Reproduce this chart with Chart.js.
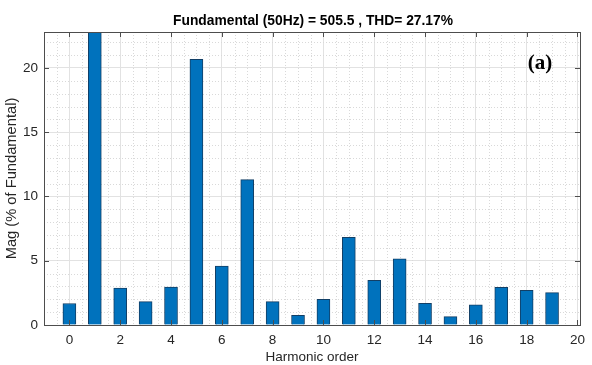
<!DOCTYPE html>
<html>
<head>
<meta charset="utf-8">
<script src="https://cdn.jsdelivr.net/npm/chart.js@4/dist/chart.umd.min.js"></script>
<style>
  html, body { margin: 0; padding: 0; background: #ffffff; }
  #wrap { width: 592px; height: 365px; position: relative; }
</style>
</head>
<body>
<div id="wrap"><canvas id="chartArmonicos"></canvas></div>
<script>
// Datos del espectro armónico
const ordenArmonico = [0, 1, 2, 3, 4, 5, 6, 7, 8, 9, 10, 11, 12, 13, 14, 15, 16, 17, 18, 19];
const magnitudPct = [1.67, 100, 2.88, 1.82, 2.96, 20.68, 4.59, 11.31, 1.82, 0.75,
                     2.0, 6.82, 3.48, 5.14, 1.69, 0.65, 1.56, 2.93, 2.70, 2.52];
const ticksX = [0, 2, 4, 6, 8, 10, 12, 14, 16, 18, 20];
const ticksY = [0, 5, 10, 15, 20];
const tituloGrafica = 'Fundamental (50Hz) = 505.5 , THD= 27.17%';
const etiquetaPanel = '(a)';

const colorTexto = '#262626';
const colorMarco = '#4d4d4d';

// Plugin: rejilla menor, marco, marcas interiores, título y etiqueta (a)
const estiloMatlab = {
    id: 'estiloMatlab',
    beforeDatasetsDraw(chart) {
        const { ctx, chartArea: a, scales: { x, y } } = chart;
        ctx.save();
        ctx.strokeStyle = '#d9d9d9';
        ctx.lineWidth = 1;
        ctx.setLineDash([1, 2]);
        for (let v = -0.5; v <= 20.1; v += 0.5) {
            if (ticksX.includes(v)) continue;
            const px = Math.round(x.getPixelForValue(v)) + 0.5;
            if (px <= a.left || px >= a.right) continue;
            ctx.beginPath(); ctx.moveTo(px, a.top); ctx.lineTo(px, a.bottom); ctx.stroke();
        }
        for (let v = 1; v <= 22; v += 1) {
            if (ticksY.includes(v)) continue;
            const py = Math.round(y.getPixelForValue(v)) + 0.5;
            ctx.beginPath(); ctx.moveTo(a.left, py); ctx.lineTo(a.right, py); ctx.stroke();
        }
        ctx.restore();
    },
    afterDraw(chart) {
        const { ctx, chartArea: a, scales: { x, y } } = chart;
        ctx.save();
        ctx.strokeStyle = colorMarco;
        ctx.lineWidth = 1;
        ctx.setLineDash([]);
        ctx.strokeRect(Math.round(a.left) + 0.5, Math.round(a.top) + 0.5,
                       Math.round(a.right - a.left), Math.round(a.bottom - a.top));
        const largo = 5;
        ticksX.forEach(v => {
            const px = Math.round(x.getPixelForValue(v)) + 0.5;
            ctx.beginPath();
            ctx.moveTo(px, a.bottom); ctx.lineTo(px, a.bottom - largo);
            ctx.moveTo(px, a.top); ctx.lineTo(px, a.top + largo);
            ctx.stroke();
        });
        ticksY.forEach(v => {
            const py = Math.round(y.getPixelForValue(v)) + 0.5;
            ctx.beginPath();
            ctx.moveTo(a.left, py); ctx.lineTo(a.left + largo, py);
            ctx.moveTo(a.right, py); ctx.lineTo(a.right - largo, py);
            ctx.stroke();
        });
        // título
        ctx.fillStyle = '#000000';
        ctx.font = 'bold 13.8px "Liberation Sans", Arial, sans-serif';
        ctx.textAlign = 'center';
        ctx.textBaseline = 'middle';
        ctx.fillText(tituloGrafica, 313, 21);
        // etiqueta del panel
        ctx.font = 'bold 21px "Liberation Serif", "Times New Roman", serif';
        ctx.fillText(etiquetaPanel, 540, 64);
        ctx.restore();
    }
};

const ctx = document.getElementById('chartArmonicos').getContext('2d');

const chartArmonicos = new Chart(ctx, {
    type: 'bar',
    data: {
        datasets: [{
            label: 'Mag',
            data: ordenArmonico.map((h, i) => ({ x: h, y: magnitudPct[i] })),
            backgroundColor: '#0072BD',
            borderColor: '#123f66',
            borderWidth: 1,
            borderSkipped: 'bottom',
            barThickness: 13,
            categoryPercentage: 1
        }]
    },
    options: {
        responsive: true,
        maintainAspectRatio: false,
        animation: false,
        layout: {
            padding: { top: 32, right: 7, left: 0, bottom: 0 }
        },
        plugins: {
            legend: { display: false },
            tooltip: { enabled: false },
            title: { display: false }
        },
        scales: {
            x: {
                type: 'linear',
                min: -1,
                max: 20.1,
                offset: false,
                grid: { offset: false, color: '#e2e2e2', drawTicks: false },
                border: { display: false },
                afterBuildTicks: scale => { scale.ticks = ticksX.map(v => ({ value: v })); },
                afterFit: scale => { scale.height = 40; },
                ticks: {
                    padding: 7,
                    color: colorTexto,
                    font: { family: '"Liberation Sans", Arial, sans-serif', size: 13.5 },
                    maxRotation: 0
                },
                title: {
                    display: true,
                    text: 'Harmonic order',
                    color: colorTexto,
                    font: { family: '"Liberation Sans", Arial, sans-serif', size: 13.5 },
                    padding: { top: 0, bottom: 0 }
                }
            },
            y: {
                min: 0,
                max: 22.8,
                grid: { color: '#e2e2e2', drawTicks: false },
                border: { display: false },
                afterBuildTicks: scale => { scale.ticks = ticksY.map(v => ({ value: v })); },
                afterFit: scale => { scale.width = 44; },
                ticks: {
                    padding: 6,
                    color: colorTexto,
                    font: { family: '"Liberation Sans", Arial, sans-serif', size: 13.5 }
                },
                title: {
                    display: true,
                    text: 'Mag (% of Fundamental)',
                    color: colorTexto,
                    font: { family: '"Liberation Sans", Arial, sans-serif', size: 14.7 },
                    padding: { top: 3, bottom: 0 }
                }
            }
        }
    },
    plugins: [estiloMatlab]
});
</script>
</body>
</html>
